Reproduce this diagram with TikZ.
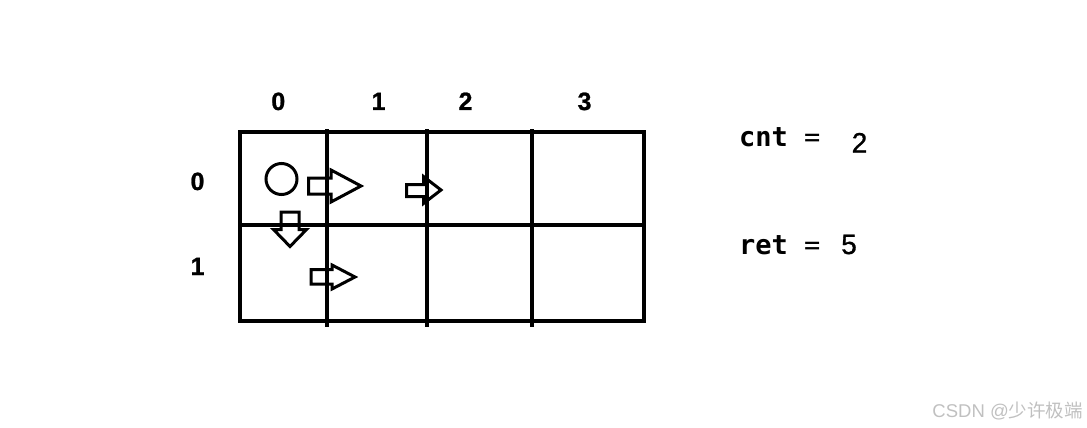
\documentclass[tikz,border=0pt]{standalone}
\usepackage{fontspec}
\setmainfont{Liberation Sans}
\newfontfamily\digitfont{Liberation Sans}[FakeBold=1]
\newfontfamily\monob{DejaVu Sans Mono}
\newfontfamily\cjk{Noto Sans CJK SC}
\definecolor{wm}{RGB}{192,192,192}
\tikzset{
  gridline/.style={line width=4pt},
  blockarrow/.style={line width=3pt, line join=miter},
  lab/.style={inner sep=0pt, anchor=base, font=\digitfont\bfseries\fontsize{25}{25}\selectfont},
  var/.style={inner sep=0pt, anchor=base west, font=\monob\fontsize{27}{27}\selectfont},
  val/.style={inner sep=0pt, anchor=base, font=\digitfont\fontsize{28}{28}\selectfont},
}
\begin{document}
\begin{tikzpicture}[x=1pt,y=-1pt]
\useasboundingbox (0,0) rectangle (1087,428);
% grid
\coordinate (tl) at (239.5,132);
\coordinate (br) at (644,321);
\draw[gridline] (tl) rectangle (br);
\draw[gridline] (239.5,225) -- (644,225);
\draw[gridline] (327,129) -- (327,327);
\draw[gridline] (427,129) -- (427,327);
\draw[gridline] (532,129) -- (532,327);
% circle
\node[draw, circle, line width=3pt, minimum size=31pt, inner sep=0pt] (start) at (281.5,179) {};
% big arrow row 0
\draw[blockarrow] (308.5,178) -- (331,178) -- (331,170) -- (361,186) -- (331,202) -- (331,194) -- (308.5,194) -- cycle;
% small arrow row 0 col 2
\draw[blockarrow] (406.5,184.5) -- (423.5,184.5) -- (423.5,176.5) -- (441,190) -- (423.5,203.5) -- (423.5,196.5) -- (406.5,196.5) -- cycle;
% row 1 arrow
\draw[blockarrow] (311,269.5) -- (332,269.5) -- (332,265) -- (355,277) -- (332,289) -- (332,284) -- (311,284) -- cycle;
% down arrow
\draw[blockarrow] (281,212) -- (299,212) -- (299,229.5) -- (306.5,229.5) -- (290,246.5) -- (273.5,229.5) -- (281,229.5) -- cycle;
% labels
\node[lab] (c0) at (278.3,110) {0};
\node[lab] (c1) at (378.5,110) {1};
\node[lab] (c2) at (465.5,110) {2};
\node[lab] (c3) at (584.5,110) {3};
\node[lab] (r0) at (197.5,190) {0};
\node[lab] (r1) at (197.5,275) {1};
% variables
\node[var] (cnt) at (739,146.7) {{\bfseries cnt} =};
\node[val] (cntv) at (859.5,152.5) {2};
\node[var] (ret) at (739,254) {{\bfseries ret} =};
\node[val] (retv) at (849,254) {5};
% watermark
\node[inner sep=0pt, anchor=east, text=wm, font=\fontsize{18.5}{18.5}\selectfont] (wmk) at (1083,411) {CSDN @{\cjk 少许极端}};
\end{tikzpicture}
\end{document}
